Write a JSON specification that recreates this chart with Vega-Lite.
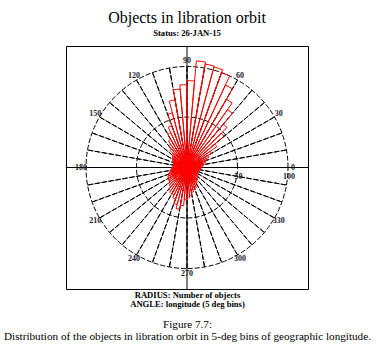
{
  "$schema": "https://vega.github.io/schema/vega-lite/v6.json",
  "width": 242,
  "height": 243,
  "autosize": {"type": "none"},
  "padding": {"left": 66, "top": 46, "right": 71, "bottom": 64},
  "config": {
    "view": {"stroke": "black", "strokeWidth": 1},
    "font": "Liberation Serif"
  },
  "title": {
    "text": "Objects in libration orbit",
    "subtitle": "Status: 26-JAN-15",
    "anchor": "middle",
    "frame": "group",
    "font": "Liberation Serif",
    "fontSize": 16,
    "fontWeight": "normal",
    "color": "black",
    "subtitleFont": "Liberation Serif",
    "subtitleFontSize": 8.6,
    "subtitleFontWeight": "bold",
    "subtitleColor": "black",
    "subtitlePadding": 3,
    "offset": 8
  },
  "resolve": {"scale": {"x": "independent"}, "axis": {"x": "independent"}},
  "layer": [
    {
      "data": {"values": [{}]},
      "mark": {"type": "rule", "color": "black", "strokeWidth": 1},
      "encoding": {
        "x": {
          "datum": 0,
          "type": "quantitative",
          "scale": {"domain": [-1, 1]},
          "axis": {
            "orient": "bottom",
            "title": ["RADIUS: Number of objects", "ANGLE: longitude (5 deg bins)"],
            "labels": false, "ticks": false, "domain": false, "grid": false,
            "titleFont": "Liberation Serif", "titleFontSize": 8.6, "titleFontWeight": "bold",
            "titleColor": "black", "titlePadding": 1, "titleLineHeight": 9.5
          }
        }
      }
    },
    {
      "data": {"values": [{}]},
      "mark": {"type": "rule", "color": "black", "strokeWidth": 1},
      "encoding": {
        "x": {
          "datum": -1,
          "type": "quantitative",
          "scale": {"domain": [-1, 1]},
          "axis": {
            "orient": "bottom",
            "title": ["Figure 7.7:", "Distribution of the objects in libration orbit in 5-deg bins of geographic longitude."],
            "labels": false, "ticks": false, "domain": false, "grid": false,
            "titleFont": "Liberation Serif", "titleFontSize": 11.2, "titleFontWeight": "normal",
            "titleColor": "black", "titlePadding": 29, "titleLineHeight": 12
          }
        },
        "x2": {"datum": 1},
        "y": {"datum": 0, "type": "quantitative", "scale": {"domain": [-1, 1]}, "axis": null}
      }
    },
    {
      "data": {"values": [{"a": 0}, {"a": 10}, {"a": 20}, {"a": 30}, {"a": 40}, {"a": 50}, {"a": 60}, {"a": 70}, {"a": 80}, {"a": 90}, {"a": 100}, {"a": 110}, {"a": 120}, {"a": 130}, {"a": 140}, {"a": 150}, {"a": 160}, {"a": 170}, {"a": 180}, {"a": 190}, {"a": 200}, {"a": 210}, {"a": 220}, {"a": 230}, {"a": 240}, {"a": 250}, {"a": 260}, {"a": 270}, {"a": 280}, {"a": 290}, {"a": 300}, {"a": 310}, {"a": 320}, {"a": 330}, {"a": 340}, {"a": 350}]},
      "mark": {"type": "arc", "filled": false, "stroke": "black", "strokeWidth": 1, "strokeDash": [5, 2]},
      "encoding": {
        "theta": {"field": "a", "type": "quantitative", "stack": null, "scale": {"domain": [0, 360], "range": [1.5707963, -4.712389]}},
        "theta2": {"field": "a"},
        "radius": {"datum": 100, "type": "quantitative", "stack": null, "scale": {"type": "linear", "domain": [0, 100], "range": [0, 101], "zero": true}}
      }
    },
    {
      "data": {"values": [{"r": 50}, {"r": 100}]},
      "mark": {"type": "arc", "filled": false, "stroke": "black", "strokeWidth": 1, "strokeDash": [5, 2]},
      "encoding": {
        "theta": {"datum": 0, "type": "quantitative", "stack": null, "scale": {"domain": [0, 360], "range": [1.5707963, -4.712389]}},
        "theta2": {"datum": 360},
        "radius": {"field": "r", "type": "quantitative", "stack": null, "scale": {"type": "linear", "domain": [0, 100], "range": [0, 101], "zero": true}}
      }
    },
    {
      "data": {"values": [
        {"lon0": 0, "lon1": 5, "n": 14}, {"lon0": 5, "lon1": 10, "n": 16}, {"lon0": 10, "lon1": 15, "n": 17}, {"lon0": 15, "lon1": 20, "n": 19},
        {"lon0": 20, "lon1": 25, "n": 21}, {"lon0": 25, "lon1": 30, "n": 24}, {"lon0": 30, "lon1": 35, "n": 28}, {"lon0": 35, "lon1": 40, "n": 36},
        {"lon0": 40, "lon1": 45, "n": 48}, {"lon0": 45, "lon1": 50, "n": 56}, {"lon0": 50, "lon1": 55, "n": 70}, {"lon0": 55, "lon1": 60, "n": 78},
        {"lon0": 60, "lon1": 65, "n": 90}, {"lon0": 65, "lon1": 70, "n": 100}, {"lon0": 70, "lon1": 75, "n": 103}, {"lon0": 75, "lon1": 80, "n": 104},
        {"lon0": 80, "lon1": 85, "n": 106}, {"lon0": 85, "lon1": 90, "n": 86}, {"lon0": 90, "lon1": 95, "n": 82}, {"lon0": 95, "lon1": 100, "n": 78},
        {"lon0": 100, "lon1": 105, "n": 68}, {"lon0": 105, "lon1": 110, "n": 56}, {"lon0": 110, "lon1": 115, "n": 44}, {"lon0": 115, "lon1": 120, "n": 38},
        {"lon0": 120, "lon1": 125, "n": 32}, {"lon0": 125, "lon1": 130, "n": 28}, {"lon0": 130, "lon1": 135, "n": 24}, {"lon0": 135, "lon1": 140, "n": 20},
        {"lon0": 140, "lon1": 145, "n": 18}, {"lon0": 145, "lon1": 150, "n": 17}, {"lon0": 150, "lon1": 155, "n": 16}, {"lon0": 155, "lon1": 160, "n": 15},
        {"lon0": 160, "lon1": 165, "n": 14}, {"lon0": 165, "lon1": 170, "n": 14}, {"lon0": 170, "lon1": 175, "n": 14}, {"lon0": 175, "lon1": 180, "n": 14},
        {"lon0": 180, "lon1": 185, "n": 15}, {"lon0": 185, "lon1": 190, "n": 16}, {"lon0": 190, "lon1": 195, "n": 17}, {"lon0": 195, "lon1": 200, "n": 18},
        {"lon0": 200, "lon1": 205, "n": 20}, {"lon0": 205, "lon1": 210, "n": 21}, {"lon0": 210, "lon1": 215, "n": 22}, {"lon0": 215, "lon1": 220, "n": 22},
        {"lon0": 220, "lon1": 225, "n": 24}, {"lon0": 225, "lon1": 230, "n": 25}, {"lon0": 230, "lon1": 235, "n": 28}, {"lon0": 235, "lon1": 240, "n": 30},
        {"lon0": 240, "lon1": 245, "n": 30}, {"lon0": 245, "lon1": 250, "n": 33}, {"lon0": 250, "lon1": 255, "n": 38}, {"lon0": 255, "lon1": 260, "n": 42},
        {"lon0": 260, "lon1": 265, "n": 38}, {"lon0": 265, "lon1": 270, "n": 32}, {"lon0": 270, "lon1": 275, "n": 30}, {"lon0": 275, "lon1": 280, "n": 28},
        {"lon0": 280, "lon1": 285, "n": 25}, {"lon0": 285, "lon1": 290, "n": 23}, {"lon0": 290, "lon1": 295, "n": 22}, {"lon0": 295, "lon1": 300, "n": 20},
        {"lon0": 300, "lon1": 305, "n": 18}, {"lon0": 305, "lon1": 310, "n": 16}, {"lon0": 310, "lon1": 315, "n": 15}, {"lon0": 315, "lon1": 320, "n": 14},
        {"lon0": 320, "lon1": 325, "n": 13}, {"lon0": 325, "lon1": 330, "n": 12}, {"lon0": 330, "lon1": 335, "n": 12}, {"lon0": 335, "lon1": 340, "n": 12},
        {"lon0": 340, "lon1": 345, "n": 12}, {"lon0": 345, "lon1": 350, "n": 12}, {"lon0": 350, "lon1": 355, "n": 13}, {"lon0": 355, "lon1": 360, "n": 14}
      ]},
      "mark": {"type": "arc", "filled": false, "stroke": "#ff0000", "strokeWidth": 1},
      "encoding": {
        "theta": {"field": "lon0", "type": "quantitative", "stack": null, "scale": {"domain": [0, 360], "range": [1.5707963, -4.712389]}},
        "theta2": {"field": "lon1"},
        "radius": {"field": "n", "type": "quantitative", "stack": null, "scale": {"type": "linear", "domain": [0, 100], "range": [0, 101], "zero": true}}
      }
    },
    {
      "data": {"values": [{"a": 0}, {"a": 30}, {"a": 60}, {"a": 90}, {"a": 120}, {"a": 150}, {"a": 180}, {"a": 210}, {"a": 240}, {"a": 270}, {"a": 300}, {"a": 330}]},
      "mark": {"type": "text", "font": "Liberation Serif", "fontSize": 8, "fontWeight": "bold", "color": "#1c1c30", "align": "center", "baseline": "middle"},
      "encoding": {
        "theta": {"field": "a", "type": "quantitative", "stack": null, "scale": {"domain": [0, 360], "range": [1.5707963, -4.712389]}},
        "radius": {"datum": 105, "type": "quantitative", "stack": null, "scale": {"type": "linear", "domain": [0, 100], "range": [0, 101], "zero": true}},
        "text": {"field": "a", "type": "quantitative"}
      }
    },
    {
      "data": {"values": [{"r": 50}, {"r": 100}]},
      "mark": {"type": "text", "font": "Liberation Serif", "fontSize": 8, "fontWeight": "bold", "color": "#1c1c30", "align": "center", "baseline": "middle", "dy": 9, "dx": 1},
      "encoding": {
        "theta": {"datum": 0, "type": "quantitative", "stack": null, "scale": {"domain": [0, 360], "range": [1.5707963, -4.712389]}},
        "radius": {"field": "r", "type": "quantitative", "stack": null, "scale": {"type": "linear", "domain": [0, 100], "range": [0, 101], "zero": true}},
        "text": {"field": "r", "type": "quantitative"}
      }
    }
  ]
}
